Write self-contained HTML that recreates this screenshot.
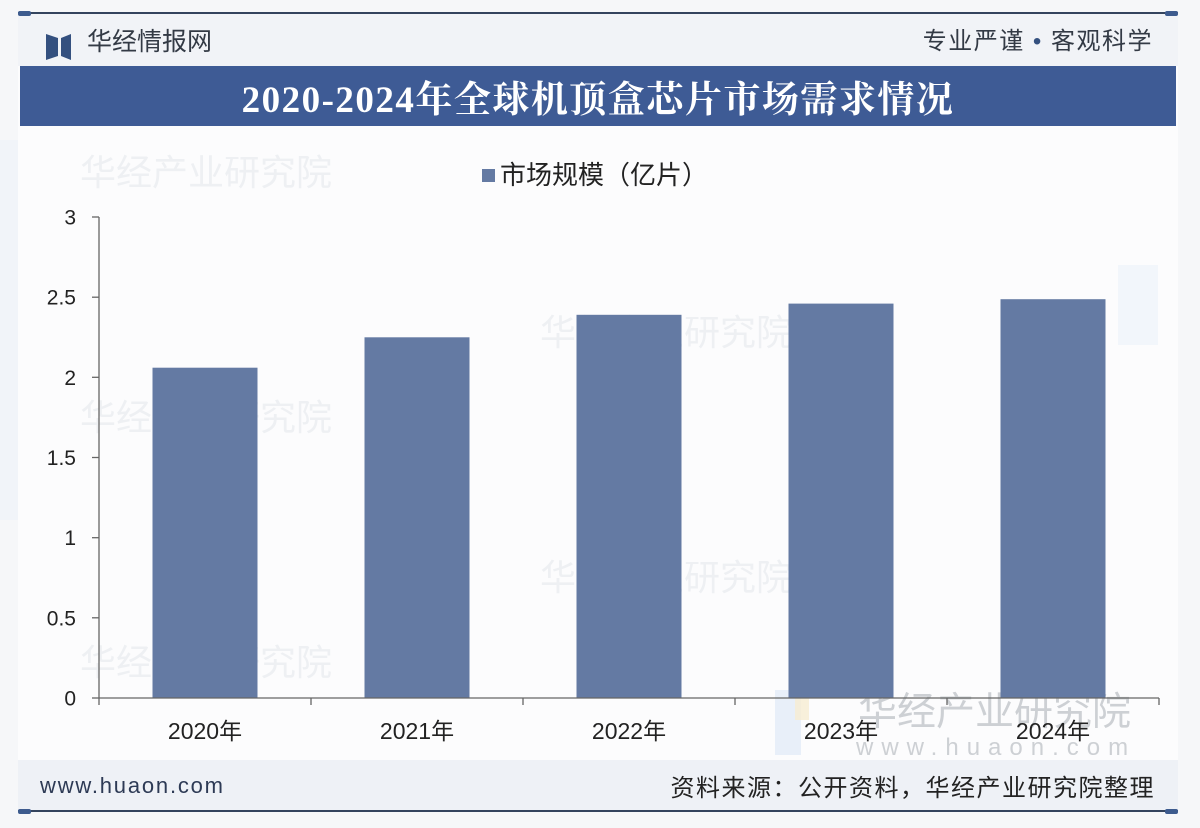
<!DOCTYPE html>
<html><head><meta charset="utf-8">
<style>
html,body{margin:0;padding:0;}
body{width:1200px;height:828px;background:#f6f7f9;position:relative;overflow:hidden;font-family:"Liberation Sans","Noto Sans CJK SC",sans-serif;}
.abs{position:absolute;}
</style></head>
<body>
<svg class="abs" style="left:0;top:0" width="1200" height="828" viewBox="0 0 1200 828">
  <!-- card background -->
  <rect x="18" y="13" width="1160" height="798" fill="#fcfcfd"/>
  <!-- header band -->
  <rect x="18" y="14" width="1160" height="52" fill="#f1f3f7"/>
  <line x1="18" y1="13" x2="1178" y2="13" stroke="#34445e" stroke-width="2"/>
  <rect x="18" y="11" width="13" height="5" rx="2" fill="#3d5b8e"/>
  <rect x="1165" y="11" width="13" height="5" rx="2" fill="#3d5b8e"/>
  <!-- logo -->
  <path d="M46 34 L58 38 L58 56 L46 60 Z" fill="#34507f"/>
  <path d="M71 34 L61 38 L61 56 L71 60 Z" fill="#34507f"/>
  <text x="87" y="50" font-size="25" fill="#333a45" font-family="Liberation Sans, Noto Sans CJK SC, sans-serif">华经情报网</text>
  <text x="1153" y="49" font-size="24" fill="#333a45" text-anchor="end" letter-spacing="1.5" font-family="Liberation Sans, Noto Sans CJK SC, sans-serif">专业严谨 <tspan fill="#34507f">•</tspan> 客观科学</text>
  <!-- banner -->
  <rect x="20" y="66" width="1156" height="60" fill="#3e5b95"/>
  <text x="598" y="112" font-size="37" font-weight="bold" fill="#ffffff" text-anchor="middle" letter-spacing="1.5" font-family="Liberation Serif, Noto Serif CJK SC, serif">2020-2024年全球机顶盒芯片市场需求情况</text>

  <!-- faint watermarks -->
  <g fill="#eef0f3" font-family="Liberation Sans, Noto Sans CJK SC, sans-serif" font-size="36">
    <text x="80" y="185">华经产业研究院</text>
    <text x="540" y="345">华经产业研究院</text>
    <text x="80" y="430">华经产业研究院</text>
    <text x="540" y="590">华经产业研究院</text>
    <text x="80" y="675">华经产业研究院</text>
  </g>
  <rect x="0" y="140" width="18" height="380" fill="#eef2f8" opacity="0.6"/>
  <rect x="1118" y="265" width="40" height="80" fill="#eef3fa" opacity="0.7"/>
  <!-- bottom-right watermark -->
  <rect x="775" y="690" width="26" height="65" fill="#e2ebf7" opacity="0.8"/>
  <rect x="795" y="690" width="14" height="30" fill="#f6ecd2" opacity="0.8"/>
  <text x="858" y="725" font-size="39" fill="#cdd0d4" font-family="Liberation Sans, Noto Sans CJK SC, sans-serif">华经产业研究院</text>
  <text x="856" y="755" font-size="24" fill="#cdd0d4" letter-spacing="8" font-family="Liberation Sans, sans-serif">www.huaon.com</text>

  <!-- legend -->
  <rect x="482" y="169" width="13" height="13" fill="#647aa3"/>
  <text x="500" y="184" font-size="26" fill="#222" font-family="Liberation Sans, Noto Sans CJK SC, sans-serif">市场规模（亿片）</text>

  <!-- bars -->
  <g fill="#647aa3">
    <rect x="152.5" y="367.7" width="105" height="330.3"/>
    <rect x="364.5" y="337.3" width="105" height="360.7"/>
    <rect x="576.5" y="314.8" width="105" height="383.2"/>
    <rect x="788.5" y="303.6" width="105" height="394.4"/>
    <rect x="1000.5" y="299.2" width="105" height="398.8"/>
  </g>

  <!-- axes -->
  <g stroke="#666" stroke-width="1.3" fill="none">
    <line x1="99" y1="217" x2="99" y2="698"/>
    <line x1="99" y1="698" x2="1159" y2="698"/>
    <line x1="92" y1="217" x2="99" y2="217"/>
    <line x1="92" y1="297.2" x2="99" y2="297.2"/>
    <line x1="92" y1="377.3" x2="99" y2="377.3"/>
    <line x1="92" y1="457.5" x2="99" y2="457.5"/>
    <line x1="92" y1="537.7" x2="99" y2="537.7"/>
    <line x1="92" y1="617.8" x2="99" y2="617.8"/>
    <line x1="92" y1="698" x2="99" y2="698"/>
    <line x1="99" y1="698" x2="99" y2="705"/>
    <line x1="311" y1="698" x2="311" y2="705"/>
    <line x1="523" y1="698" x2="523" y2="705"/>
    <line x1="735" y1="698" x2="735" y2="705"/>
    <line x1="947" y1="698" x2="947" y2="705"/>
    <line x1="1159" y1="698" x2="1159" y2="705"/>
  </g>
  <g font-size="21" fill="#222" text-anchor="end" font-family="Liberation Sans, sans-serif">
    <text x="76" y="224.5">3</text>
    <text x="76" y="304.7">2.5</text>
    <text x="76" y="384.8">2</text>
    <text x="76" y="465">1.5</text>
    <text x="76" y="545.2">1</text>
    <text x="76" y="625.3">0.5</text>
    <text x="76" y="705.5">0</text>
  </g>
  <g font-size="23" fill="#222" text-anchor="middle" font-family="Liberation Sans, Noto Sans CJK SC, sans-serif">
    <text x="205" y="739">2020年</text>
    <text x="417" y="739">2021年</text>
    <text x="629" y="739">2022年</text>
    <text x="841" y="739">2023年</text>
    <text x="1053" y="739">2024年</text>
  </g>

  <!-- footer -->
  <rect x="18" y="760" width="1160" height="50" fill="#eef1f6"/>
  <line x1="18" y1="811" x2="1178" y2="811" stroke="#34445e" stroke-width="2"/>
  <rect x="18" y="809" width="13" height="5" rx="2" fill="#3d5b8e"/>
  <rect x="1165" y="809" width="13" height="5" rx="2" fill="#3d5b8e"/>
  <text x="40" y="793" font-size="22" fill="#2d3a55" letter-spacing="1.8" font-family="Liberation Sans, sans-serif">www.huaon.com</text>
  <text x="1155" y="796" font-size="24" fill="#222" text-anchor="end" letter-spacing="1.5" font-family="Liberation Sans, Noto Sans CJK SC, sans-serif">资料来源：公开资料，华经产业研究院整理</text>
</svg>
</body></html>
